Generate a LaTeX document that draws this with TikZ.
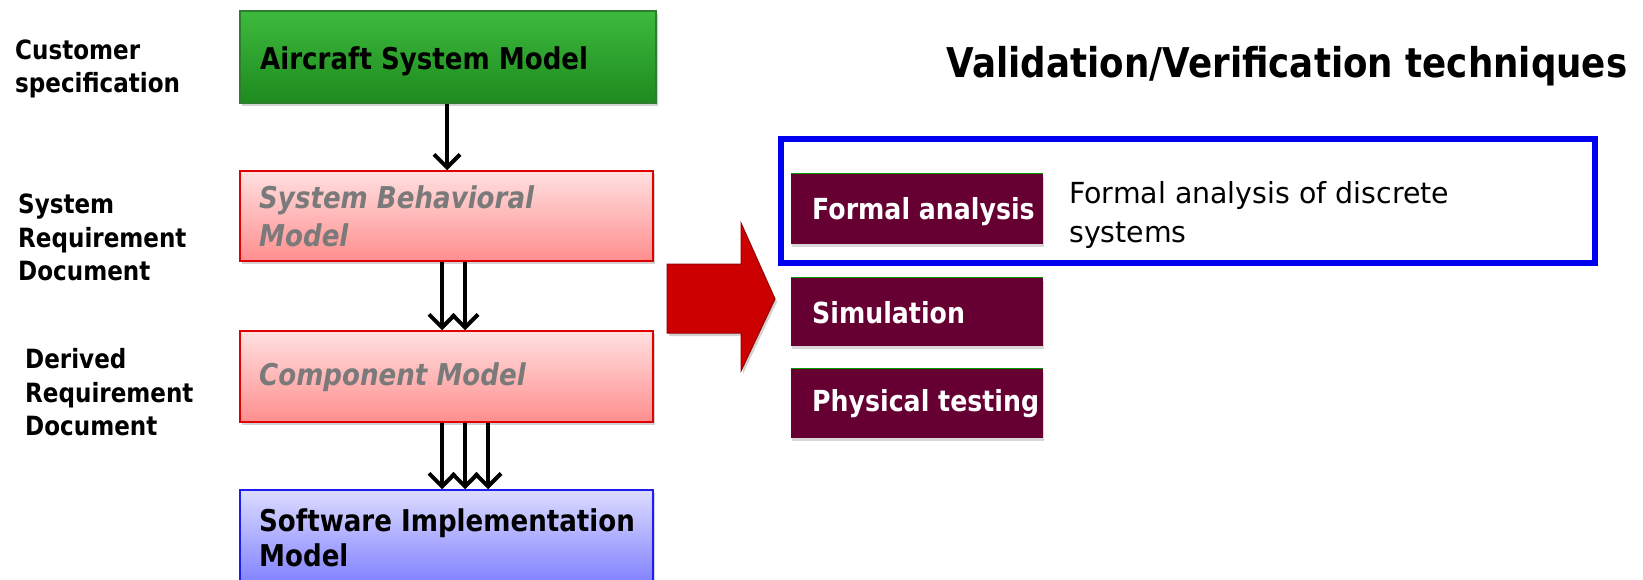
\documentclass[tikz,border=0pt]{standalone}
\usepackage{fontspec}
\setmainfont{DejaVu Sans}[FakeStretch=0.87]
\newfontfamily\descfont{DejaVu Sans}[FakeStretch=0.98]
\usetikzlibrary{arrows.meta,shadows,calc}
\definecolor{grntop}{HTML}{3DBA3D}
\definecolor{grnbot}{HTML}{1E8A1E}
\definecolor{grnline}{HTML}{2E7D2E}
\definecolor{pinktop}{HTML}{FFE0E0}
\definecolor{pinkbot}{HTML}{FF8E8E}
\definecolor{pinkline}{HTML}{E00000}
\definecolor{bluetop}{HTML}{DCDCFF}
\definecolor{bluebot}{HTML}{7F7FFF}
\definecolor{blueline}{HTML}{1E1EF0}
\definecolor{wine}{HTML}{660033}
\definecolor{arrowred}{HTML}{CC0000}
\definecolor{frameblue}{HTML}{0000F0}
\definecolor{graytxt}{HTML}{7A7A7A}
\tikzset{
  basebox/.style={rectangle, minimum width=413pt, inner sep=0pt, line width=1.5pt,
    drop shadow={shadow xshift=2pt, shadow yshift=-3pt, opacity=0.35, fill=gray}},
  greenbox/.style={basebox, draw=grnline, top color=grntop, bottom color=grnbot},
  pinkbox/.style={basebox, draw=pinkline, top color=pinktop, bottom color=pinkbot},
  bluebox/.style={basebox, draw=blueline, top color=bluetop, bottom color=bluebot},
  boxtext/.style={anchor=west, align=left, inner sep=0pt, text=black,
    font=\fontsize{30}{35}\selectfont\bfseries},
  pinktext/.style={boxtext, text=graytxt, font=\fontsize{30}{38}\selectfont\bfseries\itshape},
  winebox/.style={rectangle, fill=wine, minimum width=252pt, inner sep=0pt,
    drop shadow={shadow xshift=1pt, shadow yshift=-3pt, opacity=0.3, fill=gray}},
  winetext/.style={anchor=west, inner sep=0pt, text=white, font=\fontsize{29}{34}\selectfont\bfseries},
  sidelabel/.style={anchor=west, align=left, inner sep=0pt, font=\fontsize{26.5}{33.5}\selectfont\bfseries},
  flow/.style={line width=4.5pt, -{Straight Barb[length=13pt, width=26pt, line width=4pt]}},
}
\begin{document}
\begin{tikzpicture}[x=1pt, y=-1pt]
\useasboundingbox (0,0) rectangle (1643,580);
\fill[white] (0,0) rectangle (1643,580);

% left labels
\node[sidelabel] (lab1) at (15,69) {Customer\\specification};
\node[sidelabel] (lab2) at (18,237.5) {System\\Requirement\\Document};
\node[sidelabel] (lab3) at (25,392.5) {Derived\\Requirement\\Document};

% model boxes
\node[greenbox, minimum width=416pt, minimum height=92pt] (asm) at (448,57) {};
\node[boxtext] (asmt) at (260,61) {Aircraft System Model};
\node[pinkbox, minimum height=90pt] (sbm) at (446.5,216) {};
\node[pinktext] (sbmt) at (259,216) {System Behavioral\\Model};
\node[pinkbox, minimum height=91pt] (cm) at (446.5,376.5) {};
\node[pinktext] (cmt) at (259,377) {Component Model};
\node[bluebox, minimum height=95pt] (sim) at (446.5,537.5) {};
\node[boxtext] (simt) at (259,537.5) {Software Implementation\\Model};

% arrows
\draw[flow] (asm.south -| 447,0) -- (sbm.north -| 447,0);
\draw[flow] (sbm.south -| 442,0) -- (cm.north -| 442,0);
\draw[flow] (sbm.south -| 465,0) -- (cm.north -| 465,0);
\draw[flow] (cm.south -| 442,0) -- (sim.north -| 442,0);
\draw[flow] (cm.south -| 465,0) -- (sim.north -| 465,0);
\draw[flow] (cm.south -| 488,0) -- (sim.north -| 488,0);

% big red arrow
\fill[gray, opacity=0.35] (669,267) -- (743,267) -- (743,226) -- (777,302) -- (743,374) -- (743,336) -- (669,336) -- cycle;
\fill[arrowred, draw=red!60!black, line width=1pt] (667,264) -- (741,264) -- (741,223) -- (775,299) -- (741,371) -- (741,333) -- (667,333) -- cycle;

% title
\node[font=\fontsize{41}{48}\selectfont\bfseries, inner sep=0pt] (title) at (1287,66) {Validation/Verification techniques};

% technique frame
\draw[frameblue, line width=6pt] (781,139) rectangle (1595,263);
\node[winebox, minimum height=70pt] (fa) at (917,209) {};
\draw[green!60!black, line width=0.8pt] (fa.north west) -- (fa.north east);
\node[winetext] (fat) at (812,212) {Formal analysis};
\node[winebox, minimum height=68pt] (simu) at (917,312) {};
\draw[green!60!black, line width=0.8pt] (simu.north west) -- (simu.north east);
\node[winetext] (simut) at (812,313) {Simulation};
\node[winebox, minimum height=69pt] (pt) at (917,403.5) {};
\draw[green!60!black, line width=0.8pt] (pt.north west) -- (pt.north east);
\begin{scope}
\clip (pt.south west) rectangle (pt.north east);
\node[winetext] (ptt) at (812,404) {Physical testing};
\end{scope}

\node[anchor=west, align=left, inner sep=0pt, font=\descfont\fontsize{29}{39}\selectfont] (desc) at (1069,214.5) {Formal analysis of discrete\\systems};
\end{tikzpicture}
\end{document}
